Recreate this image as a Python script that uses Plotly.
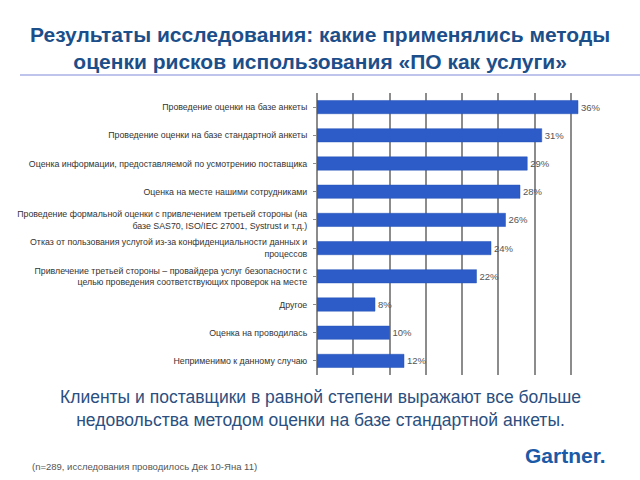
import plotly.graph_objects as go

categories = [
    "Проведение оценки на базе анкеты",
    "Проведение оценки на базе стандартной анкеты",
    "Оценка информации, предоставляемой по усмотрению поставщика",
    "Оценка на месте нашими сотрудниками",
    "Проведение формальной оценки с привлечением третьей стороны (на<br>базе SAS70, ISO/IEC 27001, Systrust и т.д.)",
    "Отказ от пользования услугой из-за конфиденциальности данных и<br>процессов",
    "Привлечение третьей стороны – провайдера услуг безопасности с<br>целью проведения соответствующих проверок на месте",
    "Другое",
    "Оценка на проводилась",
    "Неприменимо к данному случаю",
]
values = [36, 31, 29, 28, 26, 24, 22, 8, 10, 12]
value_labels = [f"{v}%" for v in values]

title_text = ("<b>Результаты исследования: какие применялись методы<br>"
              "оценки рисков использования «ПО как услуги»</b>")
conclusion_text = ("Клиенты и поставщики в равной степени выражают все больше<br>"
                   "недовольства методом оценки на базе стандартной анкеты.")
footnote_text = "(n=289, исследования проводилось Дек 10-Яна 11)"
logo_text = "<b>Gartner.</b>"

W, H = 640, 480
ML, MR, MT, MB = 317, 33, 93, 105
PH = H - MT - MB
PW = W - ML - MR


def py(p):
    return (H - MB - p) / PH


def px(p):
    return (p - ML) / PW


fig = go.Figure()
fig.add_trace(go.Bar(
    x=values,
    y=list(range(len(categories))),
    orientation="h",
    marker=dict(color="#2d5cc8", line=dict(color="#2452b8", width=0.5)),
    width=0.47,
    text=value_labels,
    textposition="outside",
    textfont=dict(family="Liberation Sans, Arial", size=9.5, color="#555555"),
    cliponaxis=False,
    hoverinfo="skip",
))

fig.update_layout(
    width=W, height=H,
    margin=dict(l=ML, r=MR, t=MT, b=MB, pad=0, autoexpand=False),
    paper_bgcolor="white",
    plot_bgcolor="white",
    showlegend=False,
    xaxis=dict(
        range=[0, 40], dtick=5, showgrid=True, gridcolor="#8c8c8c", gridwidth=1.5,
        showticklabels=False, zeroline=True, zerolinecolor="#8c8c8c", zerolinewidth=1.5,
        fixedrange=True, automargin=False,
    ),
    yaxis=dict(
        range=[9.5, -0.5],
        tickmode="array",
        tickvals=list(range(len(categories))),
        ticktext=categories,
        ticks="outside", ticklen=3, tickcolor="#8c8c8c",
        tickfont=dict(family="Liberation Sans, Arial", size=8.8, color="#333333"),
        ticklabelstandoff=4,
        showgrid=False, zeroline=False,
        fixedrange=True, automargin=False,
    ),
    annotations=[
        dict(text=title_text, x=px(320), y=py(48), xref="paper", yref="paper",
             showarrow=False, xanchor="center", yanchor="middle",
             font=dict(family="Liberation Sans, Arial", size=21, color="#1c4f8a")),
        dict(text=conclusion_text, x=px(320), y=py(408), xref="paper", yref="paper",
             showarrow=False, xanchor="center", yanchor="middle",
             font=dict(family="Liberation Sans, Arial", size=17.5, color="#2b4f80")),
        dict(text=footnote_text, x=px(30), y=py(466), xref="paper", yref="paper",
             showarrow=False, xanchor="left", yanchor="middle",
             font=dict(family="Liberation Sans, Arial", size=9.5, color="#555555")),
        dict(text=logo_text, x=px(565), y=py(455), xref="paper", yref="paper",
             showarrow=False, xanchor="center", yanchor="middle",
             font=dict(family="Liberation Sans, Arial", size=21, color="#1a5aa6")),
    ],
    shapes=[
        dict(type="line", xref="paper", yref="paper", x0=px(20), x1=px(640),
             y0=py(75), y1=py(75), line=dict(color="#a8b0e6", width=1.5)),
    ],
)

fig.write_html("out.html", config={"displayModeBar": False},
               post_script="document.body.style.margin='0';")
